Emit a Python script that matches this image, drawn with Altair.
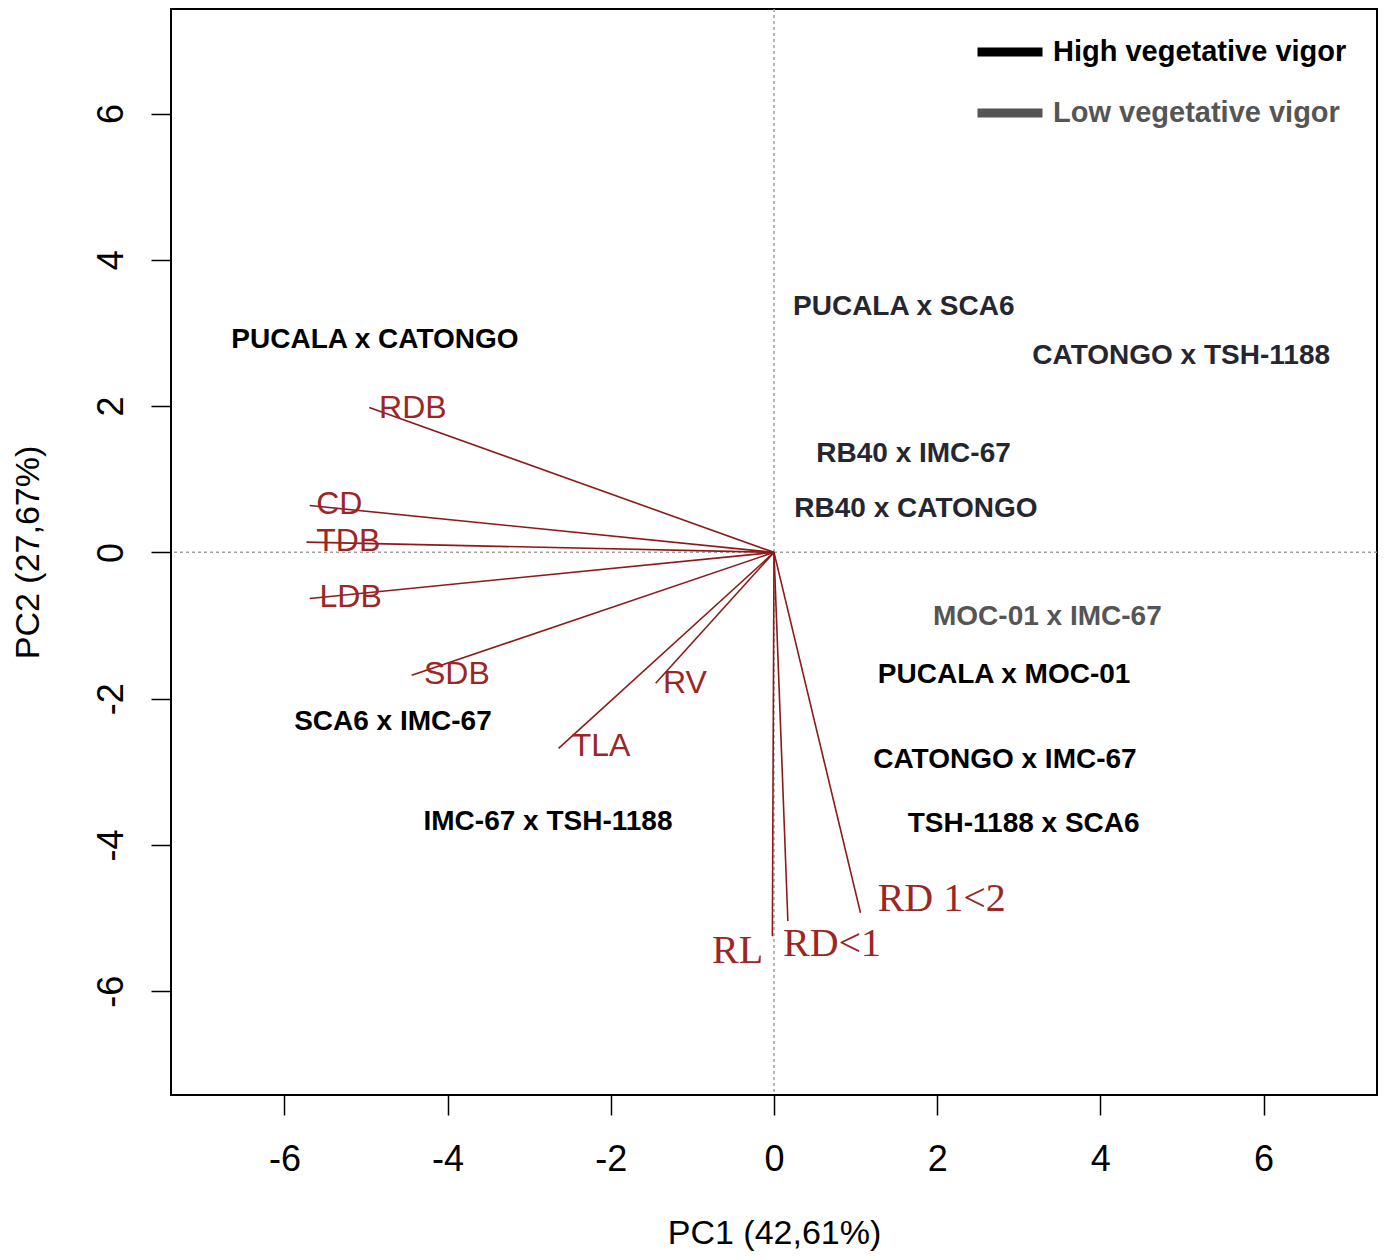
import altair as alt
import pandas as pd

# ---- variable loadings (arrow tips) ----
var_names = ["RDB", "CD", "TDB", "LDB", "SDB", "TLA", "RV", "RL", "RD<1", "RD 1<2"]
var_pc1 = [-4.96, -5.69, -5.73, -5.69, -4.44, -2.64, -1.45, -0.02, 0.17, 1.06]
var_pc2 = [1.98, 0.64, 0.14, -0.63, -1.68, -2.68, -1.79, -5.25, -5.04, -4.93]
# label anchors (left edge) of the variable names
var_lab_pc1 = [-4.84, -5.61, -5.61, -5.57, -4.29, -2.48, -1.36, -0.76, 0.11, 1.27]
var_lab_pc2 = [1.98, 0.66, 0.15, -0.61, -1.67, -2.65, -1.78, -5.45, -5.36, -4.74]
serif_vars = ["RL", "RD<1", "RD 1<2"]

# ---- genotype scores ----
genotypes = ["PUCALA x CATONGO", "PUCALA x SCA6", "CATONGO x TSH-1188",
             "RB40 x IMC-67", "RB40 x CATONGO", "MOC-01 x IMC-67",
             "PUCALA x MOC-01", "CATONGO x IMC-67", "TSH-1188 x SCA6",
             "SCA6 x IMC-67", "IMC-67 x TSH-1188"]
geno_pc1 = [-4.89, 1.59, 4.99, 1.71, 1.74, 3.35, 2.82, 2.83, 3.06, -4.67, -2.77]
geno_pc2 = [2.91, 3.36, 2.68, 1.35, 0.59, -0.89, -1.68, -2.84, -3.72, -2.32, -3.69]
HIGH = "High vegetative vigor"
LOW = "Low vegetative vigor"
geno_vigor = [HIGH, LOW, LOW, LOW, LOW, LOW, HIGH, HIGH, HIGH, HIGH, HIGH]

ticks = [-6, -4, -2, 0, 2, 4, 6]
x_domain = [-7.39, 7.39]
y_domain = [-7.42, 7.43]
x_title = "PC1 (42,61%)"
y_title = "PC2 (27,67%)"

# ---- tables ----
vars_df = pd.DataFrame({"var": var_names, "pc1": var_pc1, "pc2": var_pc2,
                        "lx": var_lab_pc1, "ly": var_lab_pc2})
vars_df["x0"] = 0.0
vars_df["y0"] = 0.0
vars_df["serif"] = vars_df["var"].isin(serif_vars)
geno_df = pd.DataFrame({"genotype": genotypes, "pc1": geno_pc1, "pc2": geno_pc2,
                        "vigor": geno_vigor})
zero_df = pd.DataFrame({"v": [0.0]})

SANS = "Liberation Sans"
SERIF = "Liberation Serif"
RED = "#8B1A1A"
RED_TXT = "#9C2626"

xs = alt.Scale(domain=x_domain, nice=False, zero=False)
ys = alt.Scale(domain=y_domain, nice=False, zero=False)

x_axis = alt.Axis(values=ticks, grid=False, domain=False, tickSize=20, tickWidth=1.5,
                  tickColor="black", labelFont=SANS, labelFontSize=36, labelColor="black",
                  labelPadding=27, labelFlush=False, labelExpr="'' + datum.value",
                  title=x_title, titleFont=SANS, titleFontSize=34, titleFontWeight="normal",
                  titleColor="black", titleY=148, titleBaseline="alphabetic")
y_axis = alt.Axis(values=ticks, grid=False, domain=False, tickSize=20, tickWidth=1.5,
                  tickColor="black", labelFont=SANS, labelFontSize=36, labelColor="black",
                  labelAngle=270, labelAlign="center", labelBaseline="alphabetic",
                  labelPadding=29, labelFlush=False, labelExpr="'' + datum.value",
                  title=y_title, titleFont=SANS, titleFontSize=34, titleFontWeight="normal",
                  titleColor="black", titleAngle=270, titleAlign="center",
                  titleBaseline="alphabetic", titleX=-133, titleY=543)


def X(f):
    return alt.X(f, type="quantitative", scale=xs, axis=x_axis)


def Y(f):
    return alt.Y(f, type="quantitative", scale=ys, axis=y_axis)


vline = alt.Chart(zero_df).mark_rule(color="#a0a0a0", strokeDash=[3, 3], strokeWidth=1.5).encode(
    x=X("v"))
hline = alt.Chart(zero_df).mark_rule(color="#a0a0a0", strokeDash=[3, 3], strokeWidth=1.5).encode(
    y=Y("v"))

arrows = alt.Chart(vars_df).mark_rule(color=RED, strokeWidth=1.6).encode(
    x=X("x0"), y=Y("y0"), x2="pc1:Q", y2="pc2:Q")

var_sans = alt.Chart(vars_df).transform_filter("!datum.serif").mark_text(
    font=SANS, fontSize=32, color=RED_TXT, align="left", baseline="middle").encode(
    x=X("lx"), y=Y("ly"), text="var:N")

var_serif = alt.Chart(vars_df).transform_filter("datum.serif").mark_text(
    font=SERIF, fontSize=40, color=RED_TXT, align="left", baseline="middle").encode(
    x=X("lx"), y=Y("ly"), text="var:N")

geno_text = alt.Chart(geno_df).mark_text(
    font=SANS, fontSize=28, fontWeight="bold", align="center", baseline="middle").encode(
    x=X("pc1"), y=Y("pc2"),
    text="genotype:N",
    fill=alt.condition("datum.genotype == 'MOC-01 x IMC-67'", alt.value("#555555"),
                       alt.Fill("vigor:N", scale=alt.Scale(domain=[HIGH, LOW],
                                                           range=["#000000", "#262630"]),
                                legend=None)))


def legend_args(y, color):
    return dict(title=None, orient="none", legendX=802, legendY=y,
                symbolType="stroke", symbolSize=4225, symbolStrokeWidth=9, symbolOffset=0,
                symbolOpacity=1,
                labelFont=SANS, labelFontSize=29, labelFontWeight="bold", labelColor=color,
                labelOffset=6, labelLimit=600, padding=0)


high_key = alt.Chart(geno_df).transform_filter(alt.datum.vigor == HIGH).mark_point(
    shape="stroke", size=0, filled=False, strokeWidth=9, opacity=1).encode(
    x=X("pc1"), y=Y("pc2"),
    stroke=alt.Stroke("vigor:N", scale=alt.Scale(domain=[HIGH], range=["#000000"]),
                      legend=alt.Legend(**legend_args(6, "#000000"))))

low_key = alt.Chart(geno_df).transform_filter(alt.datum.vigor == LOW).mark_point(
    shape="stroke", size=0, filled=False, strokeWidth=9, opacity=1).encode(
    x=X("pc1"), y=Y("pc2"),
    color=alt.Color("vigor:N", scale=alt.Scale(domain=[LOW], range=["#555555"]),
                    legend=alt.Legend(**legend_args(67, "#555555"))))

chart = alt.layer(vline, hline, arrows, var_sans, var_serif, geno_text, high_key, low_key).properties(
    width=1206, height=1086,
    padding={"left": 163, "top": 1, "right": 1, "bottom": 157},
    autosize=alt.AutoSizeParams(type="none"),
    background="white",
).configure_view(stroke="black", strokeWidth=2)

chart.save("out.html", embed_options={"renderer": "svg", "actions": False})
